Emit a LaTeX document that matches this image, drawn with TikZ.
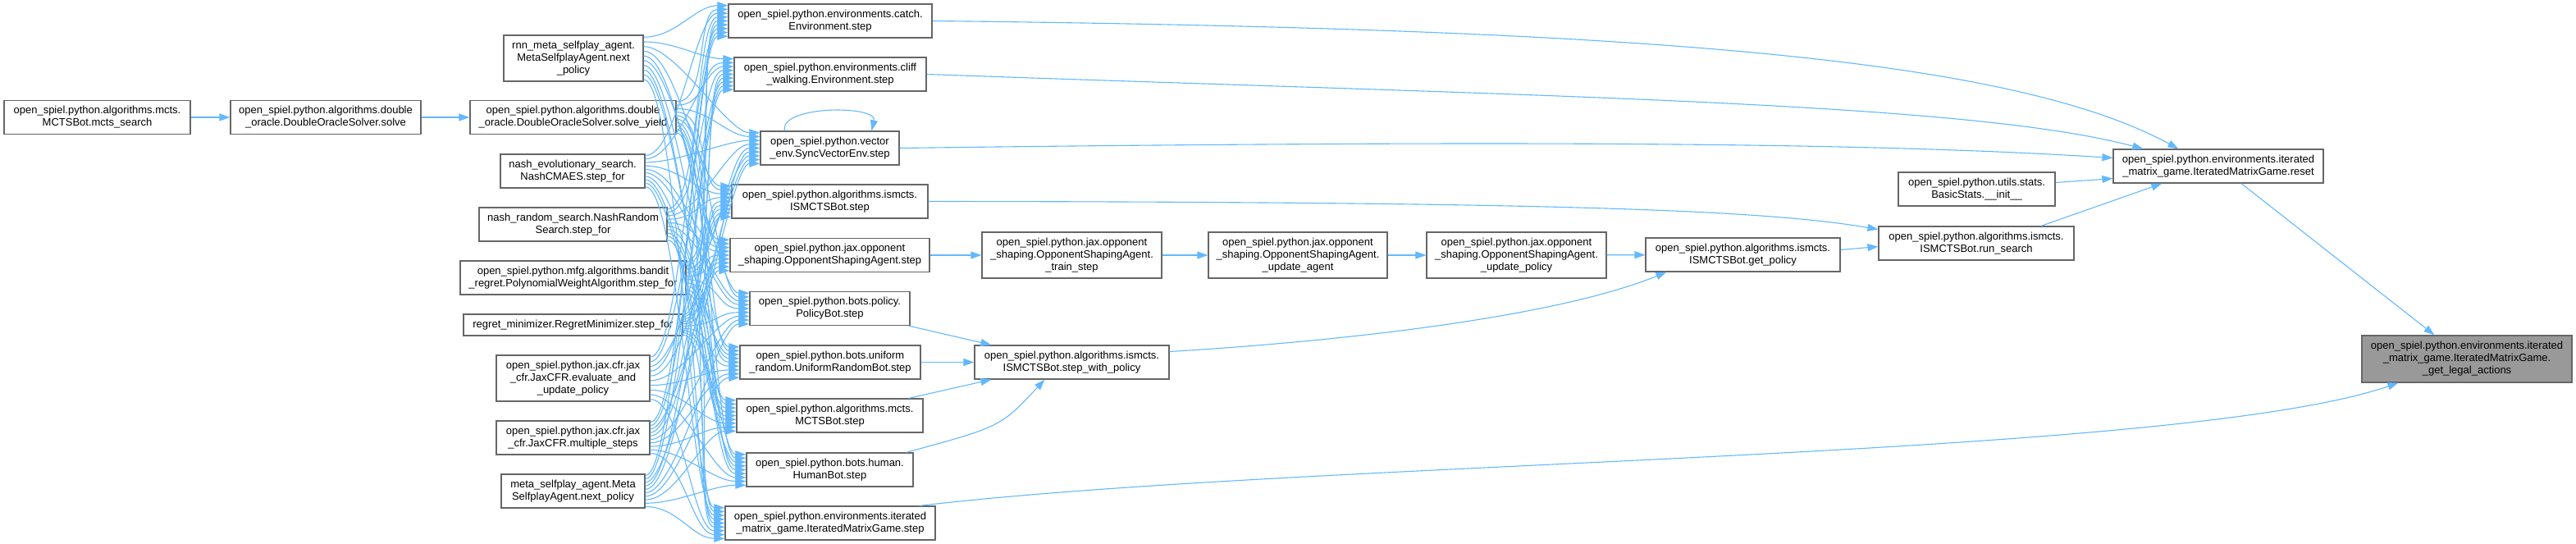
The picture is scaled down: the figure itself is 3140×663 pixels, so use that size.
\documentclass[tikz,border=0pt]{standalone}
\usepackage{fontspec}
\setmainfont{Liberation Sans}
\usepackage{xcolor}
\definecolor{edgeBlue}{HTML}{63B8FF}
\definecolor{boxGray}{HTML}{666666}
\definecolor{rootGray}{HTML}{999999}
\usetikzlibrary{calc,arrows.meta}

\begin{document}
\begin{tikzpicture}[x=0.5pt, y=-0.5pt, >={Triangle[length=6.5pt,width=4.5pt]},
  fn/.style={draw=boxGray, line width=0.6pt, fill=white, align=center, inner sep=0pt,
    font=\fontsize{6.5}{7.5}\selectfont},
  call/.style={->, color=edgeBlue, line width=0.55pt}]
  \useasboundingbox (0,0) rectangle (3140,663);
  % ------- function boxes: name / centre / size -------
  \foreach \nm/\cx/\cy/\w/\h/\txt in {
    mcts/118.5/143/227/41/{open\_spiel.python.algorithms.mcts.\\MCTSBot.mcts\_search},
    solve/397/143/232/41/{open\_spiel.python.algorithms.double\\\_oracle.DoubleOracleSolver.solve},
    yield/698.5/143/251/41/{open\_spiel.python.algorithms.double\\\_oracle.DoubleOracleSolver.solve\_yield},
    rnn/699/71/170/56/{rnn\_meta\_selfplay\_agent.\\MetaSelfplayAgent.next\\\_policy},
    cmaes/698/208.5/176/41/{nash\_evolutionary\_search.\\NashCMAES.step\_for},
    nrs/698.5/273.5/229/41/{nash\_random\_search.NashRandom\\Search.step\_for},
    poly/698.5/338.5/275/41/{open\_spiel.python.mfg.algorithms.bandit\\\_regret.PolynomialWeightAlgorithm.step\_for},
    regret/698.5/396/267/26/{regret\_minimizer.RegretMinimizer.step\_for},
    evalup/698.5/461/187/56/{open\_spiel.python.jax.cfr.jax\\\_cfr.JaxCFR.evaluate\_and\\\_update\_policy},
    multi/698.5/533.5/187/41/{open\_spiel.python.jax.cfr.jax\\\_cfr.JaxCFR.multiple\_steps},
    meta/698.5/598.5/175/41/{meta\_selfplay\_agent.Meta\\SelfplayAgent.next\_policy},
    catch/1012/25.5/248/41/{open\_spiel.python.environments.catch.\\Environment.step},
    cliff/1012/90.5/234/41/{open\_spiel.python.environments.cliff\\\_walking.Environment.step},
    syncv/1011.5/180.5/169/41/{open\_spiel.python.vector\\\_env.SyncVectorEnv.step},
    ismstep/1011.5/245.5/239/41/{open\_spiel.python.algorithms.ismcts.\\ISMCTSBot.step},
    osastep/1011.5/311/243/41/{open\_spiel.python.jax.opponent\\\_shaping.OpponentShapingAgent.step},
    policybot/1011.5/376/195/41/{open\_spiel.python.bots.policy.\\PolicyBot.step},
    uniform/1012/441.5/220/41/{open\_spiel.python.bots.uniform\\\_random.UniformRandomBot.step},
    mctsstep/1011.5/506.5/227/41/{open\_spiel.python.algorithms.mcts.\\MCTSBot.step},
    human/1011.5/572.5/203/41/{open\_spiel.python.bots.human.\\HumanBot.step},
    imgstep/1012/637.5/256/41/{open\_spiel.python.environments.iterated\\\_matrix\_game.IteratedMatrixGame.step},
    train/1306.5/311/219/56/{open\_spiel.python.jax.opponent\\\_shaping.OpponentShapingAgent.\\\_train\_step},
    upagent/1582/311/218/56/{open\_spiel.python.jax.opponent\\\_shaping.OpponentShapingAgent.\\\_update\_agent},
    uppolicy/1848.5/311/219/56/{open\_spiel.python.jax.opponent\\\_shaping.OpponentShapingAgent.\\\_update\_policy},
    swp/1306.5/441.5/237/41/{open\_spiel.python.algorithms.ismcts.\\ISMCTSBot.step\_with\_policy},
    getpol/2124.5/310.5/237/41/{open\_spiel.python.algorithms.ismcts.\\ISMCTSBot.get\_policy},
    runsearch/2409/296.5/238/41/{open\_spiel.python.algorithms.ismcts.\\ISMCTSBot.run\_search},
    basic/2409.5/230.5/191/41/{open\_spiel.python.utils.stats.\\BasicStats.\_\_init\_\_},
    reset/2704/202.5/256/41/{open\_spiel.python.environments.iterated\\\_matrix\_game.IteratedMatrixGame.reset}}
    \node[fn, minimum width=\w*0.5pt, minimum height=\h*0.5pt] (\nm) at (\cx,\cy) {\txt};
  \node[fn, fill=rootGray, minimum width=128pt, minimum height=28.5pt] (legal) at (3007,437.5)
    {open\_spiel.python.environments.iterated\\\_matrix\_game.IteratedMatrixGame.\\\_get\_legal\_actions};
  % ------- every caller on the left reaches every step -------
  \foreach \a [count=\i from 0] in {rnn,yield,cmaes,nrs,poly,regret,evalup,multi,meta}
    \foreach \b [count=\j from 0] in {catch,cliff,syncv,ismstep,osastep,policybot,uniform,mctsstep,human,imgstep}
      \draw[call] ($(\a.north east)!{(\j+0.5)/10}!(\a.south east)$)
        .. controls +(40,0) and +(-40,0) .. ($(\b.north west)!{(\i+0.5)/9}!(\b.south west)$);
  \draw[call] ($(syncv.north west)+(30,0)$) .. controls (950,128) and (1070,128) .. ($(syncv.north west)+(136,0)$);
  % ------- chains towards the reset and the root -------
  \draw[call] (mcts) -- (solve);
  \draw[call] (solve) -- (yield);
  \draw[call] (osastep) -- (train);
  \draw[call] (train) -- (upagent);
  \draw[call] (upagent) -- (uppolicy);
  \draw[call] (uppolicy) -- (getpol);
  \draw[call] (uniform) -- (swp);
  \draw[call] ($(policybot.south east)+(-2,0)$) -- ($(swp.north west)+(21,0)$);
  \draw[call] ($(mctsstep.north east)+(-18,0)$) -- ($(swp.south west)+(21,0)$);
  \draw[call] ($(human.north east)+(-9,0)$) .. controls (1220,520) .. ($(swp.south west)+(86,0)$);
  \draw[call] ($(swp.east)+(0,-13)$) .. controls (1650,415) and (1900,385) .. ($(getpol.south west)+(26,0)$);
  \draw[call] ($(getpol.east)+(0,-6)$) -- ($(runsearch.west)+(0,4)$);
  \draw[call] (ismstep.east) .. controls (1900,246) and (2150,256) .. ($(runsearch.west)+(0,-17)$);
  \draw[call] (catch.east) .. controls (2000,35) and (2450,70) .. ($(reset.north west)+(80,0)$);
  \draw[call] (cliff.east) .. controls (1900,118) and (2400,125) .. ($(reset.north west)+(37,0)$);
  \draw[call] (syncv.east) .. controls (1900,170) and (2300,175) .. ($(reset.west)+(0,-10)$);
  \draw[call] ($(basic.east)+(0,-8)$) -- ($(reset.south west)+(0,-6)$);
  \draw[call] ($(runsearch.north)+(79,0)$) -- ($(reset.south west)+(60,0)$);
  \draw[call] ($(reset.south)+(28,0)$) -- ($(legal.north west)+(89,0)$);
  \draw[call] ($(imgstep.north east)+(-20,0)$) .. controls (1600,560) and (2650,560) .. ($(legal.south west)+(45,0)$);
\end{tikzpicture}
\end{document}
